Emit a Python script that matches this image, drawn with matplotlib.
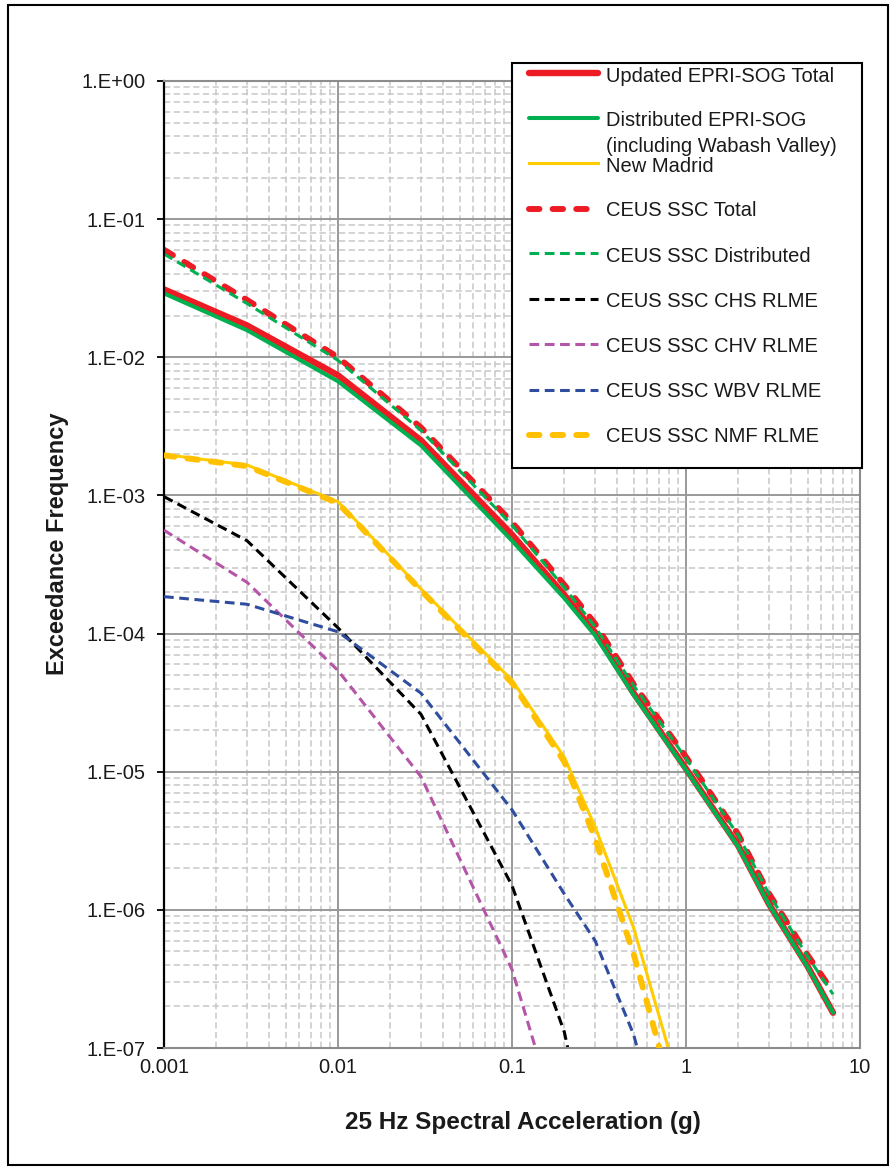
import numpy as np
import matplotlib
matplotlib.use("Agg")
import matplotlib.pyplot as plt
from matplotlib.lines import Line2D
from matplotlib.patches import Rectangle
from matplotlib.ticker import FixedLocator, FuncFormatter, LogLocator, NullFormatter

plt.rcParams['font.family'] = ['Liberation Sans', 'DejaVu Sans']
plt.rcParams['lines.scale_dashes'] = False

# ---------------- data ----------------
accel = [0.001, 0.003, 0.01, 0.03, 0.1, 0.2, 0.3, 0.5, 1, 2, 3, 5, 7]

updated_total = [3.1e-2, 1.7e-2, 7.4e-3, 2.5e-3, 5.2e-4, 1.9e-4, 1.02e-4,
                 3.7e-5, 1.05e-5, 2.9e-6, 1.1e-6, 3.9e-7, 1.8e-7]
distributed_sog = [2.9e-2, 1.57e-2, 6.7e-3, 2.3e-3, 4.7e-4, 1.8e-4, 9.7e-5,
                   3.6e-5, 1.03e-5, 2.85e-6, 1.09e-6, 3.85e-7, 1.8e-7]
new_madrid = [1.98e-3, 1.66e-3, 9.0e-4, 2.1e-4, 4.6e-5, 1.27e-5, 4.0e-6,
              7.4e-7, 3.6e-8]
ceus_total = [6.0e-2, 2.6e-2, 1.0e-2, 3.1e-3, 6.4e-4, 2.25e-4, 1.18e-4,
              4.3e-5, 1.28e-5, 3.5e-6, 1.31e-6, 4.7e-7, 2.55e-7]
ceus_distributed = [5.6e-2, 2.45e-2, 9.5e-3, 2.95e-3, 6.1e-4, 2.15e-4, 1.12e-4,
                    4.2e-5, 1.25e-5, 3.45e-6, 1.3e-6, 4.6e-7, 2.45e-7]
chs_rlme = [9.8e-4, 4.7e-4, 1.1e-4, 2.6e-5, 1.5e-6, 1.3e-7, 1.2e-8]
chv_rlme = [5.6e-4, 2.35e-4, 5.4e-5, 9.2e-6, 3.7e-7, 2.0e-8]
wbv_rlme = [1.85e-4, 1.63e-4, 1.03e-4, 3.7e-5, 5.3e-6, 1.3e-6, 6.0e-7,
            1.25e-7, 5.0e-9]
nmf_rlme = [1.95e-3, 1.63e-3, 8.8e-4, 2.05e-4, 4.4e-5, 1.18e-5, 3.3e-6,
            4.8e-7, 2.0e-8]

labels = ["Updated EPRI-SOG Total",
          "Distributed EPRI-SOG",
          "New Madrid",
          "CEUS SSC Total",
          "CEUS SSC Distributed",
          "CEUS SSC CHS RLME",
          "CEUS SSC CHV RLME",
          "CEUS SSC WBV RLME",
          "CEUS SSC NMF RLME"]
label2_extra = "(including Wabash Valley)"

x_ticks = [0.001, 0.01, 0.1, 1, 10]
x_ticklabels = ["0.001", "0.01", "0.1", "1", "10"]
y_ticks = [1e-7, 1e-6, 1e-5, 1e-4, 1e-3, 1e-2, 1e-1, 1]

# ---------------- styles ----------------
RED = '#ED1C24'
GREEN = '#00B050'
YEL = '#FFCC00'
NMF = '#FFC000'
MAG = '#B455A8'
BLUE = '#2F4D9E'

thick_dash = (0, (7.5, 9.5))
thin_dash = (0, (7.0, 4.0))

styles = [
    dict(color=RED, lw=4.6, ls='-', solid_capstyle='round'),
    dict(color=GREEN, lw=2.9, ls='-', solid_capstyle='round'),
    dict(color=YEL, lw=2.2, ls='-'),
    dict(color=RED, lw=4.3, ls=thick_dash, dash_capstyle='round'),
    dict(color=GREEN, lw=2.2, ls=thin_dash),
    dict(color='black', lw=2.2, ls=thin_dash),
    dict(color=MAG, lw=2.2, ls=thin_dash),
    dict(color=BLUE, lw=2.2, ls=thin_dash),
    dict(color=NMF, lw=4.3, ls=thick_dash, dash_capstyle='round'),
]
series = [updated_total, distributed_sog, new_madrid, ceus_total,
          ceus_distributed, chs_rlme, chv_rlme, wbv_rlme, nmf_rlme]

W, H = 896, 1171
fig = plt.figure(figsize=(W / 100, H / 100), dpi=100)
L, R, T, B = 164, 860, 81, 1048
ax = fig.add_axes([L / W, 1 - B / H, (R - L) / W, (B - T) / H])

for i, (vals, st) in enumerate(zip(series, styles)):
    ax.plot(accel[:len(vals)], vals, zorder=2 + i * 0.1, **st)

ax.set_xscale('log')
ax.set_yscale('log')
ax.set_xlim(1e-3, 10)
ax.set_ylim(1e-7, 1)

ax.xaxis.set_major_locator(FixedLocator(x_ticks))
ax.xaxis.set_major_formatter(FuncFormatter(lambda v, p: x_ticklabels[x_ticks.index(v)] if v in x_ticks else ""))
ax.yaxis.set_major_locator(FixedLocator(y_ticks))
ax.yaxis.set_major_formatter(FuncFormatter(lambda v, p: "1.E{:+03d}".format(int(round(np.log10(v))))))
ax.xaxis.set_minor_locator(LogLocator(base=10, subs=np.arange(2, 10), numticks=100))
ax.yaxis.set_minor_locator(LogLocator(base=10, subs=np.arange(2, 10), numticks=100))
ax.xaxis.set_minor_formatter(NullFormatter())
ax.yaxis.set_minor_formatter(NullFormatter())

ax.set_axisbelow(True)
ax.grid(which='minor', color='#C8C8C8', linestyle=(0, (4.5, 2.5)), linewidth=1.1)
ax.grid(which='major', color='#999999', linestyle='-', linewidth=1.4)

ax.tick_params(axis='x', which='both', length=0, pad=7, labelsize=14.5, labelcolor='#1a1a1a')
ax.tick_params(axis='y', which='major', length=5, width=1.3, direction='out', pad=8,
               labelsize=14.5, color='black', labelcolor='#1a1a1a')
ax.tick_params(axis='y', which='minor', length=0)

for s in ['top', 'right', 'bottom']:
    ax.spines[s].set_color('#8C8C8C')
    ax.spines[s].set_linewidth(1.5)
ax.spines['left'].set_color('black')
ax.spines['left'].set_linewidth(1.6)

ax.set_xlabel("25 Hz Spectral Acceleration (g)", fontsize=17.5, fontweight='bold', color='#1a1a1a')
ax.set_ylabel("Exceedance Frequency", fontsize=17, fontweight='bold', color='#1a1a1a')
ax.xaxis.set_label_coords((523 - L) / (R - L), (B - 1123) / (B - T))
ax.xaxis.label.set_va('center')
ax.yaxis.set_label_coords((58 - L) / (R - L), (B - 544) / (B - T))
ax.yaxis.label.set_va('center')

# ---------------- outer border ----------------
fig.add_artist(Rectangle((8 / W, 1 - 1165 / H), (888 - 8) / W, (1165 - 5) / H,
                         transform=fig.transFigure, fill=False, ec='black', lw=1.5, zorder=0))

# ---------------- legend (drawn manually) ----------------
def fx(px):
    return px / W

def fy(py):
    return 1 - py / H

fig.add_artist(Rectangle((fx(512), fy(468)), (862 - 512) / W, (468 - 63) / H,
                         transform=fig.transFigure, fc='white', ec='black', lw=1.5, zorder=10))
handle_y = [73, 118, 163, 209, 253, 299, 344, 390, 435]
text_y = [76, 121, 166, 211, 256, 301, 346, 392, 437]
for i, st in enumerate(styles):
    fig.add_artist(Line2D([fx(529), fx(598)], [fy(handle_y[i])] * 2,
                          transform=fig.transFigure, zorder=11, **st))
    fig.text(fx(606), fy(text_y[i]), labels[i], fontsize=14.5, va='center', ha='left',
             color='#1a1a1a', zorder=12)
fig.text(fx(606), fy(146), label2_extra, fontsize=14.5, va='center', ha='left',
         color='#1a1a1a', zorder=12)

fig.savefig("out.png", dpi=100)
